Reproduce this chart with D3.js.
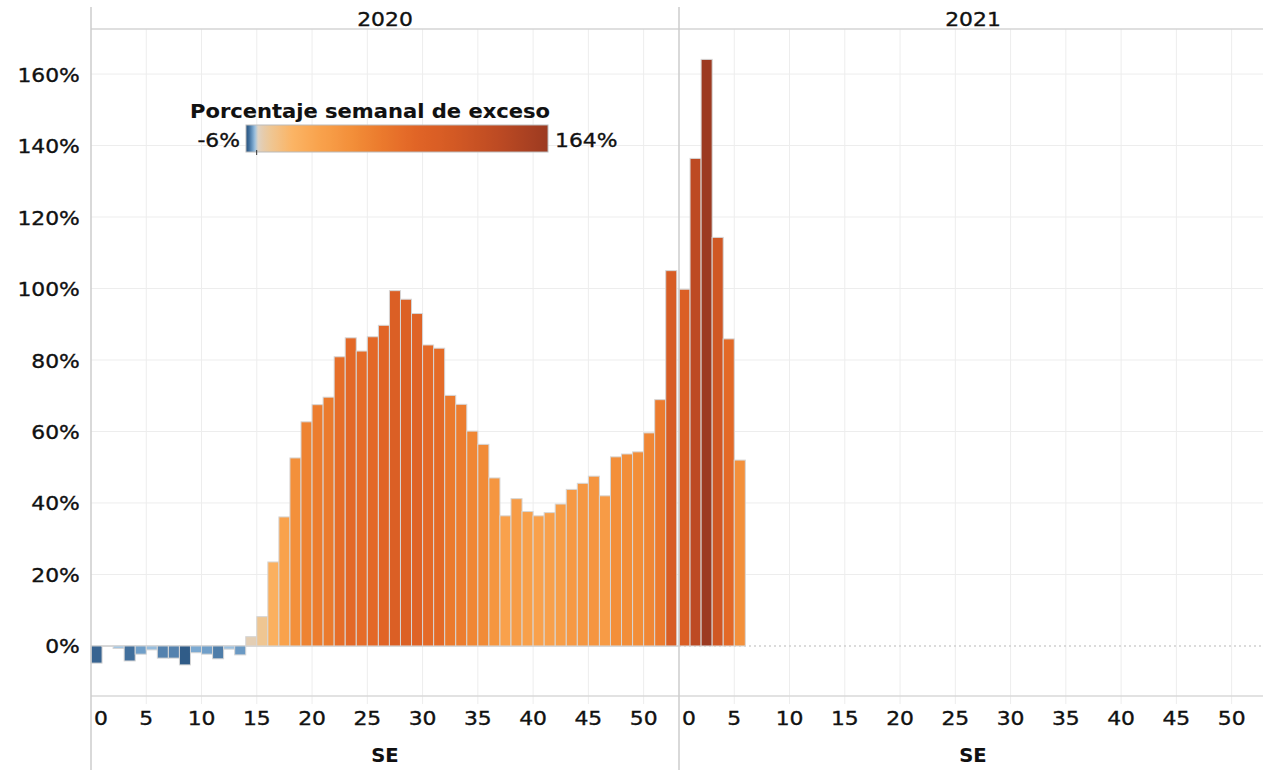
<!DOCTYPE html>
<html>
<head>
<meta charset="utf-8">
<script src="https://cdn.jsdelivr.net/npm/d3@7"></script>
<style>
  body { margin: 0; background: #fff; }
  svg text { font-family: 'DejaVu Sans', sans-serif; fill: #111; stroke: #111; stroke-width: 0.35px; }
  svg text.bold { stroke-width: 0.1px; }
</style>
</head>
<body>
<svg id="chart" width="1263" height="770"></svg>
<script>
// data - weekly excess mortality (%) by epi week (SE)
const years = ['2020', '2021']
const weeks2020 = d3.range(1, 54)
const excess2020 = [-4.8, -0.1, -0.7, -4.2, -2.3, -1.1, -3.4, -3.4, -5.3, -1.9, -2.3, -3.6, -0.9, -2.5,
  2.6, 8.2, 23.5, 36.1, 52.6, 62.7, 67.5, 69.6, 80.9, 86.2, 82.5, 86.5, 89.7, 99.4, 97.0, 93.0,
  84.2, 83.3, 70.1, 67.6, 60.1, 56.4, 47.0, 36.4, 41.2, 37.6, 36.4, 37.3, 39.7, 43.8, 45.5, 47.5,
  42.0, 52.9, 53.7, 54.3, 59.6, 68.9, 105.0]
const weeks2021 = [1, 2, 3, 4, 5, 6]
const excess2021 = [99.8, 136.4, 164.1, 114.3, 85.9, 52.0]
const xTicks = [0, 5, 10, 15, 20, 25, 30, 35, 40, 45, 50]
const yTicks = [0, 20, 40, 60, 80, 100, 120, 140, 160]
const legendRange = [-6, 164]
const legendTitle = 'Porcentaje semanal de exceso'
const axisTitle = 'SE'

const series = [
  weeks2020.map((w, i) => ({ week: w, value: excess2020[i] })),
  weeks2021.map((w, i) => ({ week: w, value: excess2021[i] }))
]

const W = 1263, H = 770
const plotLeft = 91, sep = 679, plotTop = 29, plotBottom = 696
const panelW = sep - plotLeft
const sx = 1.12 // tableau font is wider than dejavu
const fs = 19.5

const svg = d3.select('#chart')
const stretch = (sel, k = sx) => sel.attr('transform', function () {
  const t = d3.select(this).attr('transform') || ''
  return t + ` scale(${k},1)`
})

const x = d3.scaleLinear().domain([0, 53.2]).range([0, panelW])
const y = d3.scaleLinear().domain([-14, 172.6]).range([plotBottom, plotTop])

// diverging orange-blue colour ramp
const color = d3.scaleLinear()
  .domain([-6, -4, -2, -0.5, 0, 3, 8, 20, 35, 55, 70, 90, 110, 136, 164])
  .range(['#25507c', '#44729f', '#78a7d0', '#abcbe5', '#dcd5cb', '#e4cdb0', '#efc693', '#fbb465',
          '#f9a34d', '#f28d38', '#eb7a2d', '#e16426', '#d45a24', '#bd4a23', '#9c3a21'])
  .interpolate(d3.interpolateRgb)
  .clamp(true)

// horizontal grid
svg.append('g')
  .selectAll('line')
  .data(yTicks.filter(d => d !== 0))
  .join('line')
    .attr('x1', plotLeft).attr('x2', W)
    .attr('y1', d => y(d)).attr('y2', d => y(d))
    .attr('stroke', '#ededed')

// panels
years.forEach((yr, p) => {
  const x0 = plotLeft + p * panelW
  const g = svg.append('g').attr('transform', `translate(${x0},0)`)

  g.append('g')
    .selectAll('line')
    .data(xTicks.filter(d => d > 0))
    .join('line')
      .attr('x1', d => x(d)).attr('x2', d => x(d))
      .attr('y1', plotTop).attr('y2', plotBottom + 8)
      .attr('stroke', '#ededed')

  // zero line: solid in 2020, dotted in 2021
  g.append('line')
    .attr('x1', 0).attr('x2', panelW)
    .attr('y1', y(0)).attr('y2', y(0))
    .attr('stroke', '#cfcfcf')
    .attr('stroke-width', 1.5)
    .attr('stroke-dasharray', p === 0 ? null : '2,3')

  g.append('g')
    .selectAll('rect')
    .data(series[p])
    .join('rect')
      .attr('x', d => x(d.week - 1))
      .attr('width', d => x(d.week) - x(d.week - 1))
      .attr('y', d => Math.min(y(d.value), y(0)))
      .attr('height', d => Math.abs(y(d.value) - y(0)))
      .attr('fill', d => color(d.value))
      .attr('stroke', '#d6d6d6')
      .attr('stroke-width', 1)

  // header
  g.append('text')
    .attr('transform', `translate(${panelW / 2},26)`)
    .attr('text-anchor', 'middle')
    .style('font-size', fs + 'px')
    .text(yr)
    .call(stretch)

  // x axis labels
  g.append('g')
    .selectAll('text')
    .data(xTicks)
    .join('text')
      .attr('transform', d => `translate(${d === 0 ? x(0) + 3 : x(d)},725)`)
      .attr('text-anchor', d => d === 0 ? 'start' : 'middle')
      .style('font-size', fs + 'px')
      .text(d => d)
      .call(stretch)

  g.append('text')
    .attr('class', 'bold')
    .attr('transform', `translate(${panelW / 2},762)`)
    .attr('text-anchor', 'middle')
    .style('font-size', fs + 'px')
    .style('font-weight', 'bold')
    .text(axisTitle)
})

// frame lines
svg.append('line').attr('x1', plotLeft).attr('x2', W).attr('y1', plotTop).attr('y2', plotTop).attr('stroke', '#d4d4d4').attr('stroke-width', 1.5)
svg.append('line').attr('x1', plotLeft).attr('x2', W).attr('y1', plotBottom).attr('y2', plotBottom).attr('stroke', '#d9d9d9').attr('stroke-width', 1.5)
;[plotLeft, sep].forEach(v => {
  svg.append('line').attr('x1', v).attr('x2', v).attr('y1', 7).attr('y2', H).attr('stroke', '#cccccc').attr('stroke-width', 1.5)
})

// y axis
const yAxis = svg.append('g')
  .attr('transform', `translate(${plotLeft},0)`)
  .call(d3.axisLeft(y).tickValues(yTicks).tickSize(0).tickPadding(10).tickFormat(d => d + '%'))
yAxis.select('.domain').remove()
yAxis.selectAll('text')
  .style('font-size', fs + 'px')
  .style('font-family', "'DejaVu Sans', sans-serif")
  .attr('fill', '#111')
  .attr('dy', '0.36em')
  .call(stretch)

// legend
const lx = d3.scaleLinear().domain(legendRange).range([246, 548])
const grad = svg.append('defs').append('linearGradient').attr('id', 'lg')
grad.selectAll('stop')
  .data(d3.range(0, 1.0001, 0.01))
  .join('stop')
    .attr('offset', d => d)
    .attr('stop-color', d => color(legendRange[0] + d * (legendRange[1] - legendRange[0])))

svg.append('text')
  .attr('class', 'bold')
  .attr('transform', 'translate(190,118)')
  .style('font-size', fs + 'px')
  .style('font-weight', 'bold')
  .text(legendTitle)
  .call(stretch, 1.08)

svg.append('rect')
  .attr('x', lx(legendRange[0])).attr('y', 125)
  .attr('width', lx(legendRange[1]) - lx(legendRange[0])).attr('height', 27)
  .attr('fill', 'url(#lg)')
  .attr('stroke', '#bbbbbb')

svg.append('line')
  .attr('x1', lx(0)).attr('x2', lx(0)).attr('y1', 150).attr('y2', 155)
  .attr('stroke', '#333')

svg.append('text')
  .attr('transform', `translate(${lx(legendRange[0]) - 6},147)`)
  .attr('text-anchor', 'end')
  .style('font-size', fs + 'px')
  .text(legendRange[0] + '%')
  .call(stretch)

svg.append('text')
  .attr('transform', `translate(${lx(legendRange[1]) + 7},147)`)
  .style('font-size', fs + 'px')
  .text(legendRange[1] + '%')
  .call(stretch)
</script>
</body>
</html>
